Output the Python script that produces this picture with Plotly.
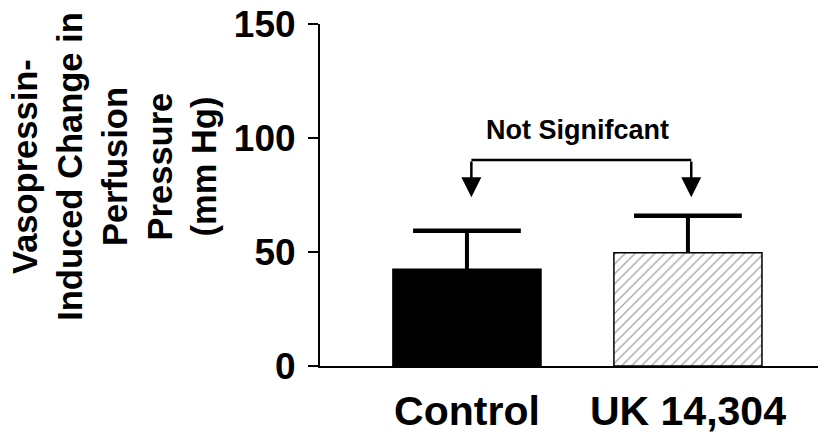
import plotly.graph_objects as go

categories = ["Control", "UK 14,304"]
means = [42.4, 49.7]
sem = [16.9, 16.2]
y_ticks = [0, 50, 100, 150]
bracket_x = [0.02, 1.015]
bracket_y = 90.4
arrow_tip_y = 74
sig_label = "Not Signifcant"
y_title = "Vasopressin-<br>Induced Change in<br>Perfusion<br>Pressure<br>(mm Hg)"

FONT = "Liberation Sans, Arial, sans-serif"
xpos = [0, 1]

fig = go.Figure()
fig.add_trace(go.Bar(
    x=xpos, y=means, width=0.67,
    marker=dict(
        color=["black", "white"],
        line=dict(color="black", width=1.5),
        pattern=dict(shape=["", "/"], fgcolor="#777777", bgcolor="white",
                     size=7, solidity=0.18),
    ),
    showlegend=False, hoverinfo="skip",
))

# upward-only error bars: stems and caps built from means and sem
stem_x, stem_y = [], []
for xi, m, s in zip(xpos, means, sem):
    stem_x += [xi, xi, None]
    stem_y += [m, m + s, None]
fig.add_trace(go.Scatter(
    x=stem_x, y=stem_y, mode="lines",
    line=dict(color="black", width=4), showlegend=False, hoverinfo="skip",
))
fig.add_trace(go.Scatter(
    x=xpos, y=[m + s for m, s in zip(means, sem)], mode="markers",
    marker=dict(symbol="line-ew", size=77, line=dict(color="black", width=4.5)),
    showlegend=False, hoverinfo="skip",
))

# bracket horizontal line
fig.add_trace(go.Scatter(
    x=bracket_x, y=[bracket_y, bracket_y], mode="lines",
    line=dict(color="black", width=2.5), showlegend=False, hoverinfo="skip",
))

for bx in bracket_x:
    fig.add_annotation(
        x=bx, y=arrow_tip_y, ax=bx, ay=bracket_y, xref="x", yref="y",
        axref="x", ayref="y", text="", showarrow=True, arrowhead=2,
        arrowwidth=2.5, arrowsize=1.6, arrowcolor="black",
    )

fig.add_annotation(
    x=sum(bracket_x) / 2, y=bracket_y, xref="x", yref="y", yshift=13,
    xshift=-4, text=sig_label, showarrow=False, yanchor="bottom",
    font=dict(family=FONT, size=27, color="black", weight="bold"),
)

fig.add_annotation(
    x=-0.399, y=0.585, xref="paper", yref="paper", text=y_title,
    textangle=-90, showarrow=False, xanchor="center", yanchor="middle",
    borderpad=0,
    font=dict(family=FONT, size=34.5, color="black", weight="bold"),
)

fig.update_layout(
    width=826, height=441,
    margin=dict(l=312, r=0, t=16, b=83),
    paper_bgcolor="white", plot_bgcolor="white",
    font=dict(family=FONT, color="black"),
    xaxis=dict(
        range=[-0.665, 1.661], tickvals=xpos, ticktext=categories,
        showline=True, linecolor="black", linewidth=2, ticks="",
        showgrid=False, zeroline=False, ticklabelstandoff=8,
        automargin=False, ticklabeloverflow="allow",
        tickfont=dict(family=FONT, size=41, color="black", weight="bold"),
    ),
    yaxis=dict(
        range=[0, 150], tickvals=y_ticks, showline=True, linecolor="black",
        linewidth=2, ticks="outside", ticklen=10, tickwidth=2,
        tickcolor="black", showgrid=False, zeroline=False,
        ticklabelstandoff=5, automargin=False, ticklabeloverflow="allow",
        tickfont=dict(family=FONT, size=37, color="black", weight="bold"),
    ),
)

fig.write_html("out.html")
